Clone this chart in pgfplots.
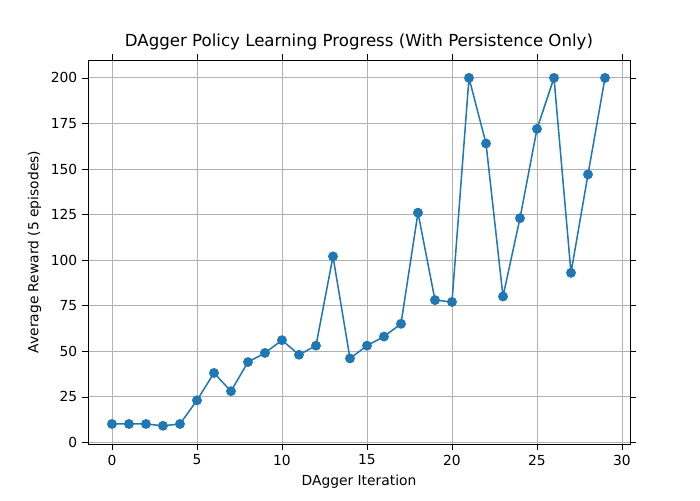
\documentclass[border=0pt]{standalone}
\usepackage{pgfplots}
\pgfplotsset{compat=1.18}
\usepackage{fontspec}
\setmainfont{DejaVu Sans}
\begin{document}
\begin{tikzpicture}
\begin{axis}[
  scale only axis, width=391.7pt, height=277.5pt,
  xmin=-1.41, xmax=30.47, ymin=-1, ymax=209.8,
  xtick={0,5,...,30}, ytick={0,25,...,200},
  grid=major, grid style={gray!60, line width=0.6pt},
  tick align=outside, tick style={black},
  font=\fontsize{10}{12}\selectfont,
  /pgf/number format/assume math mode=true,
  title={DAgger Policy Learning Progress (With Persistence Only)},
  title style={font=\fontsize{12}{14}\selectfont, yshift=-2pt},
  xlabel={DAgger Iteration}, ylabel={Average Reward (5 episodes)},
  clip=false,
]
\path (rel axis cs:0,0) ++(-63.6pt,-40.5pt) coordinate (a);
\path (rel axis cs:1,1) ++(50.6pt,43.4pt) coordinate (b);
\useasboundingbox (a) rectangle (b);
\addplot[color={rgb,255:red,31;green,119;blue,180}, line width=1.1pt, mark=*, mark size=3pt] coordinates {
(0,10)(1,10)(2,10)(3,9)(4,10)(5,23)(6,38)(7,28)(8,44)(9,49)(10,56)(11,48)(12,53)(13,102)(14,46)(15,53)(16,58)(17,65)(18,126)(19,78)(20,77)(21,200)(22,164)(23,80)(24,123)(25,172)(26,200)(27,93)(28,147)(29,200)};
\end{axis}
\end{tikzpicture}
\end{document}
